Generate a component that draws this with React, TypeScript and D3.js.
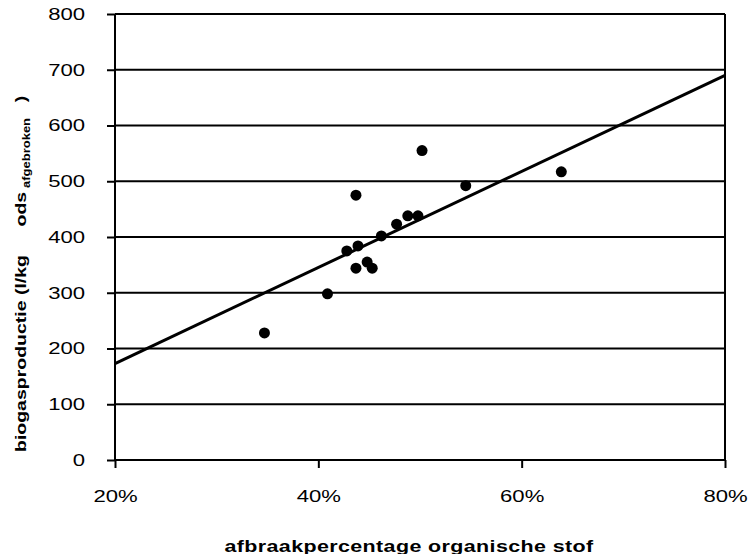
import React, { useEffect, useRef } from "react";
import * as d3 from "d3";

// afbraakpercentage (%) en biogasproductie (l/kg ods afgebroken)
const afbraak = [34.7, 40.9, 42.8, 43.7, 43.7, 43.9, 44.8, 45.3, 46.2, 47.7, 48.8, 49.8, 50.2, 54.5, 63.9];
const biogas = [228, 298, 375, 344, 475, 384, 355, 344, 402, 423, 438, 438, 555, 492, 517];

const trendX = [20, 80];
const trendY = [173, 690];

const xTicks = [20, 40, 60, 80];
const yTicks = [0, 100, 200, 300, 400, 500, 600, 700, 800];

const font = "'Liberation Sans', Arial, sans-serif";
const stretch = 1.3; // tekst in het origineel is horizontaal uitgerekt

export default function App() {
    const ref = useRef<SVGSVGElement | null>(null);

    useEffect(() => {
        const svg = d3.select(ref.current);
        svg.selectAll("*").remove();

        const left = 115, right = 725, top = 14, bottom = 460;

        const x = d3.scaleLinear().domain([20, 80]).range([left, right]);
        const y = d3.scaleLinear().domain([0, 800]).range([bottom, top]);

        const widen = (sel: d3.Selection<any, any, any, any>) => {
            sel.each(function () {
                const node = this as SVGTextElement;
                const w = node.getComputedTextLength();
                d3.select(node)
                    .attr("textLength", w * stretch)
                    .attr("lengthAdjust", "spacingAndGlyphs");
            });
        };

        // horizontale rasterlijnen
        svg.append("g")
            .selectAll("line")
            .data(yTicks.filter(d => d > 0))
            .join("line")
            .attr("x1", left)
            .attr("x2", right)
            .attr("y1", d => y(d))
            .attr("y2", d => y(d))
            .attr("stroke", "#000")
            .attr("stroke-width", 2);

        // rechter rand
        svg.append("line")
            .attr("x1", right).attr("x2", right)
            .attr("y1", top).attr("y2", bottom)
            .attr("stroke", "#000").attr("stroke-width", 2);

        const xAxis = svg.append("g")
            .attr("transform", `translate(0,${bottom})`)
            .call(d3.axisBottom(x).tickValues(xTicks).tickSize(8).tickPadding(22).tickFormat(d => `${d}%`));
        xAxis.select(".domain").attr("stroke-width", 2).attr("d", `M${left},0H${right}`);
        xAxis.selectAll(".tick line").attr("stroke-width", 2);
        xAxis.selectAll("text").attr("font-family", font).attr("font-size", 17).attr("fill", "#000").call(widen);

        const yAxis = svg.append("g")
            .attr("transform", `translate(${left},0)`)
            .call(d3.axisLeft(y).tickValues(yTicks).tickSize(8).tickPadding(22));
        yAxis.select(".domain").attr("stroke-width", 2).attr("d", `M0,${bottom}V${top}`);
        yAxis.selectAll(".tick line").attr("stroke-width", 2);
        yAxis.selectAll("text").attr("font-family", font).attr("font-size", 17).attr("fill", "#000").call(widen);

        // trendlijn
        const line = d3.line<number>()
            .x((d, i) => x(trendX[i]))
            .y(d => y(d));
        svg.append("path")
            .attr("d", line(trendY))
            .attr("fill", "none")
            .attr("stroke", "#000")
            .attr("stroke-width", 3);

        // meetpunten
        svg.append("g")
            .selectAll("circle")
            .data(afbraak)
            .join("circle")
            .attr("cx", d => x(d))
            .attr("cy", (d, i) => y(biogas[i]))
            .attr("r", 5.5)
            .attr("fill", "#000");

        // x-as titel
        svg.append("text")
            .attr("transform", `translate(409,552) scale(${stretch},1)`)
            .attr("text-anchor", "middle")
            .attr("font-family", font)
            .attr("font-size", 16.5)
            .attr("font-weight", "bold")
            .attr("letter-spacing", 0.3)
            .text("afbraakpercentage organische stof");

        // y-as titel
        const yl = svg.append("text")
            .attr("transform", `translate(26,452) rotate(-90) scale(${stretch},1)`)
            .attr("font-family", font)
            .attr("font-size", 15)
            .attr("font-weight", "bold");
        yl.append("tspan").text("biogasproductie (l/kg");
        yl.append("tspan").attr("dx", 22).text("ods");
        yl.append("tspan").attr("dx", 3).attr("dy", 4).attr("font-size", 10).text("afgebroken");
        yl.append("tspan").attr("dx", 12).attr("dy", -4).text(")");
    }, []);

    return (
        <svg ref={ref} width={748} height={554} style={{ position: "absolute", left: 0, top: 0, background: "#fff" }}></svg>
    );
}
